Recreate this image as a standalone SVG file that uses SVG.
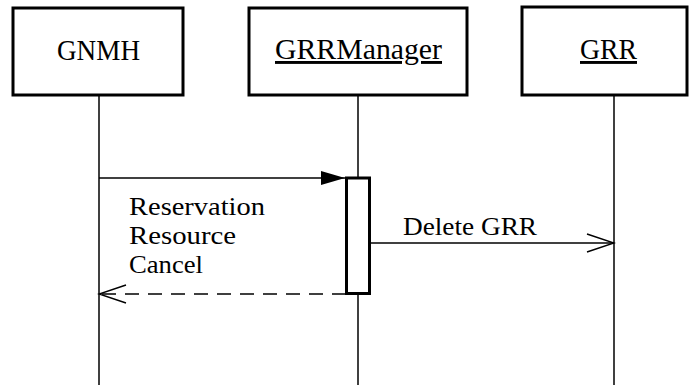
<svg xmlns="http://www.w3.org/2000/svg" width="689" height="385" viewBox="0 0 689 385">
  <style>
    .box { fill: #fff; stroke: #000; stroke-width: 3; }
    .life { stroke: #000; stroke-width: 1.5; fill: none; }
    .msg { stroke: #000; stroke-width: 1.5; fill: none; }
    .dash { stroke-dasharray: 14 9; }
    text { font-family: "Liberation Serif", "Times New Roman", "DejaVu Serif", "Noto Serif", serif; fill: #000; }
    .title { font-size: 29px; text-anchor: middle; }
    .label { font-size: 25px; }
    .uline { text-decoration: underline; }
  </style>
  <defs>
    <marker id="filled" viewBox="0 0 24 16" refX="24" refY="8" markerWidth="24" markerHeight="16" markerUnits="userSpaceOnUse" orient="auto">
      <path d="M0,1 L24,8 L0,15 Z" fill="#000"/>
    </marker>
    <marker id="open" viewBox="0 0 30 22" refX="28" refY="11" markerWidth="30" markerHeight="22" markerUnits="userSpaceOnUse" orient="auto">
      <path d="M1,2 L28,11 L1,20" fill="none" stroke="#000" stroke-width="1.5"/>
    </marker>
  </defs>

  <!-- lifelines -->
  <g id="lifelines">
    <line class="life" x1="99" y1="95" x2="99" y2="385"/>
    <line class="life" x1="358" y1="95" x2="358" y2="385"/>
    <line class="life" x1="614" y1="95" x2="614" y2="385"/>
  </g>

  <g id="gnmh">
    <rect class="box" x="13" y="8" width="170" height="87"/>
    <text class="title" x="98.5" y="60" textLength="83" lengthAdjust="spacingAndGlyphs">GNMH</text>
  </g>

  <g id="grrmanager">
    <rect class="box" x="249" y="8" width="218" height="87"/>
    <text class="title uline" x="358.5" y="59" textLength="167" lengthAdjust="spacingAndGlyphs">GRRManager</text>
  </g>

  <g id="grr">
    <rect class="box" x="522" y="7" width="165" height="88"/>
    <text class="title uline" x="608.5" y="59" textLength="57" lengthAdjust="spacingAndGlyphs">GRR</text>
  </g>

  <!-- activation bar on GRRManager -->
  <g id="activation">
    <rect class="box" x="346.5" y="178" width="23" height="115.5" stroke-width="2.5"/>
  </g>

  <g id="connectors">
    <line class="msg" x1="99" y1="178" x2="345" y2="178" marker-end="url(#filled)"/>
    <line class="msg" x1="370" y1="243" x2="614" y2="243" marker-end="url(#open)"/>
    <line class="msg dash" x1="346" y1="294" x2="99" y2="294" marker-end="url(#open)"/>
  </g>

  <g id="labels">
    <text class="label" x="129" y="215" textLength="136" lengthAdjust="spacingAndGlyphs">Reservation</text>
    <text class="label" x="129" y="244" textLength="107" lengthAdjust="spacingAndGlyphs">Resource</text>
    <text class="label" x="129" y="273" textLength="74" lengthAdjust="spacingAndGlyphs">Cancel</text>
    <text class="label" x="403" y="235" textLength="134" lengthAdjust="spacingAndGlyphs">Delete GRR</text>
  </g>
</svg>
